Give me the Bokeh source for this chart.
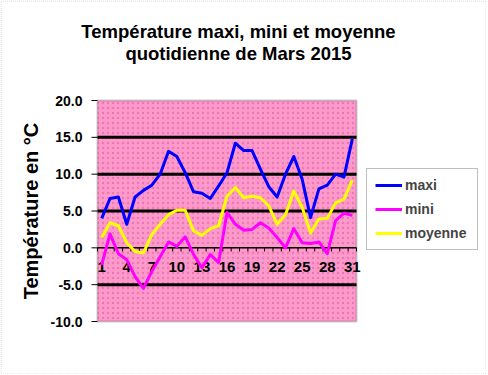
import math
from bokeh.plotting import figure
from bokeh.models import Range1d, Legend, LegendItem, Label, BoxAnnotation
from bokeh.core.properties import value
from bokeh.embed import file_html
from bokeh.resources import INLINE

# ---- data ----
days = list(range(1, 32))
maxi = [4.0, 6.7, 6.9, 3.2, 6.9, 7.8, 8.5, 10.0, 13.1, 12.4, 10.2, 7.6, 7.4, 6.7, 8.4,
        10.2, 14.2, 13.2, 13.2, 10.7, 8.3, 6.9, 10.0, 12.4, 9.3, 4.1, 8.0, 8.5, 10.0, 9.6, 14.8]
mini = [-2.3, 1.9, -0.8, -1.6, -3.9, -5.5, -3.2, -1.2, 0.8, 0.2, 1.5, -0.9, -2.7, -0.9, -2.0,
        4.8, 3.2, 2.4, 2.5, 3.4, 2.7, 1.4, 0.0, 2.6, 0.7, 0.6, 0.8, -0.8, 3.7, 4.7, 4.4]
moyenne = [1.4, 3.4, 3.0, 0.7, -0.5, -0.7, 1.8, 3.2, 4.5, 5.1, 5.1, 2.3, 1.7, 2.6, 3.0,
           7.0, 8.2, 6.8, 7.0, 6.8, 5.7, 3.2, 4.5, 7.7, 5.5, 2.0, 3.9, 4.0, 6.1, 6.6, 9.2]
y_ticks = [-10, -5, 0, 5, 10, 15, 20]
y_tick_labels = ["%.1f" % t for t in y_ticks]
x_label_days = days[::3]
title_lines = ["Température maxi, mini et moyenne", "quotidienne de Mars 2015"]
y_title = "Température en °C"
series_names = ["maxi", "mini", "moyenne"]
series_colors = ["#0000FF", "#FF00FF", "#FFFF00"]

FONT = "Liberation Sans"

# ---- layout (pixels) ----
W, H = 486, 374
PL, PR, PT, PB = 97, 356, 100, 321          # plot area box in the canvas
x_lo, x_hi = days[0] - 0.5, days[-1] + 0.5
y_lo, y_hi = y_ticks[0], y_ticks[-1]
xs = (PR - PL) / (x_hi - x_lo)
ys = (PB - PT) / (y_hi - y_lo)
x_range = Range1d(x_lo - PL / xs, x_hi + (W - PR) / xs)
y_range = Range1d(y_lo - (H - PB) / ys, y_hi + PT / ys)

p = figure(width=W, height=H, x_range=x_range, y_range=y_range, title=None,
           output_backend="svg", toolbar_location=None,
           x_axis_location=None, y_axis_location=None, min_border=0)
p.background_fill_color = "white"
p.border_fill_color = "white"
p.outline_line_color = None
p.xgrid.visible = False
p.ygrid.visible = False

# outer dotted border of the chart
p.add_layout(BoxAnnotation(left=0.5, right=W - 0.5, bottom=0.5, top=H - 0.5,
                           left_units="screen", right_units="screen",
                           bottom_units="screen", top_units="screen",
                           fill_alpha=0, line_color="#707070", line_width=1, line_dash="1 1",
                           level="overlay"))

# plot area: pink with dotted texture
p.add_layout(BoxAnnotation(left=x_lo, right=x_hi, bottom=y_lo, top=y_hi,
                           fill_color="#FF99CC", fill_alpha=1, line_color="#555555",
                           line_width=2, level="underlay"))
p.add_layout(BoxAnnotation(left=x_lo, right=x_hi, bottom=y_lo, top=y_hi,
                           fill_alpha=0, line_alpha=0, hatch_pattern="dot",
                           hatch_color="#C04080", hatch_alpha=0.35, hatch_scale=5,
                           hatch_weight=1, level="underlay"))

# horizontal grid lines
grid_vals = [t for t in y_ticks if t not in (0, y_lo, y_hi)]
p.segment(x0=[x_lo] * len(grid_vals), y0=grid_vals, x1=[x_hi] * len(grid_vals), y1=grid_vals,
          line_color="black", line_width=3)

# value axis: ticks, labels, title
p.ray(x=[x_lo] * len(y_ticks), y=y_ticks, length=6, length_units="screen", angle=math.pi,
      line_color="black", line_width=1)
p.text(x=[x_lo] * len(y_ticks), y=y_ticks, text=y_tick_labels, x_offset=-15,
       text_align="right", text_baseline="middle", text_font=value(FONT),
       text_font_style="bold", text_font_size="14px", text_color="black")
p.text(x=[x_lo], y=[(y_lo + y_hi) / 2], text=[y_title], angle=math.pi / 2, x_offset=-67,
       text_align="center", text_baseline="middle", text_font=value(FONT),
       text_font_style="bold", text_font_size="20px", text_color="black")

# category axis crossing at zero
bounds = [d - 0.5 for d in days] + [days[-1] + 0.5]
p.segment(x0=[x_lo], y0=[0], x1=[x_hi], y1=[0], line_color="black", line_width=1.5)
p.segment(x0=bounds, y0=[0] * len(bounds), x1=bounds, y1=[-0.5] * len(bounds),
          line_color="black", line_width=1)
p.text(x=x_label_days, y=[0] * len(x_label_days), text=[str(d) for d in x_label_days],
       text_align="center", text_baseline="middle", y_offset=19,
       text_font=value(FONT), text_font_style="bold", text_font_size="15px", text_color="black")

# series
renderers = []
for name, vals, col in zip(series_names, [maxi, mini, moyenne], series_colors):
    r = p.line(days, vals, line_color=col, line_width=3, line_join="round")
    renderers.append(r)

legend = Legend(items=[LegendItem(label=n, renderers=[r]) for n, r in zip(series_names, renderers)],
                location=(366, H - 250), padding=8, spacing=8, glyph_width=27, glyph_height=16,
                label_height=16, label_width=64, label_standoff=3, margin=0,
                label_text_font=FONT, label_text_font_style="bold", label_text_font_size="14px",
                border_line_color="#808080", border_line_width=1,
                background_fill_color="white", background_fill_alpha=1.0)
p.add_layout(legend)

# two-line title
for txt, base in zip(title_lines, [30.7, 53.3]):
    p.add_layout(Label(x=238, y=H - base, x_units="screen", y_units="screen", text=txt,
                       text_align="center", text_baseline="alphabetic", text_font=FONT,
                       text_font_style="bold", text_font_size="18.5px", text_color="black"))

open("out.html", "w").write(file_html(p, INLINE))
